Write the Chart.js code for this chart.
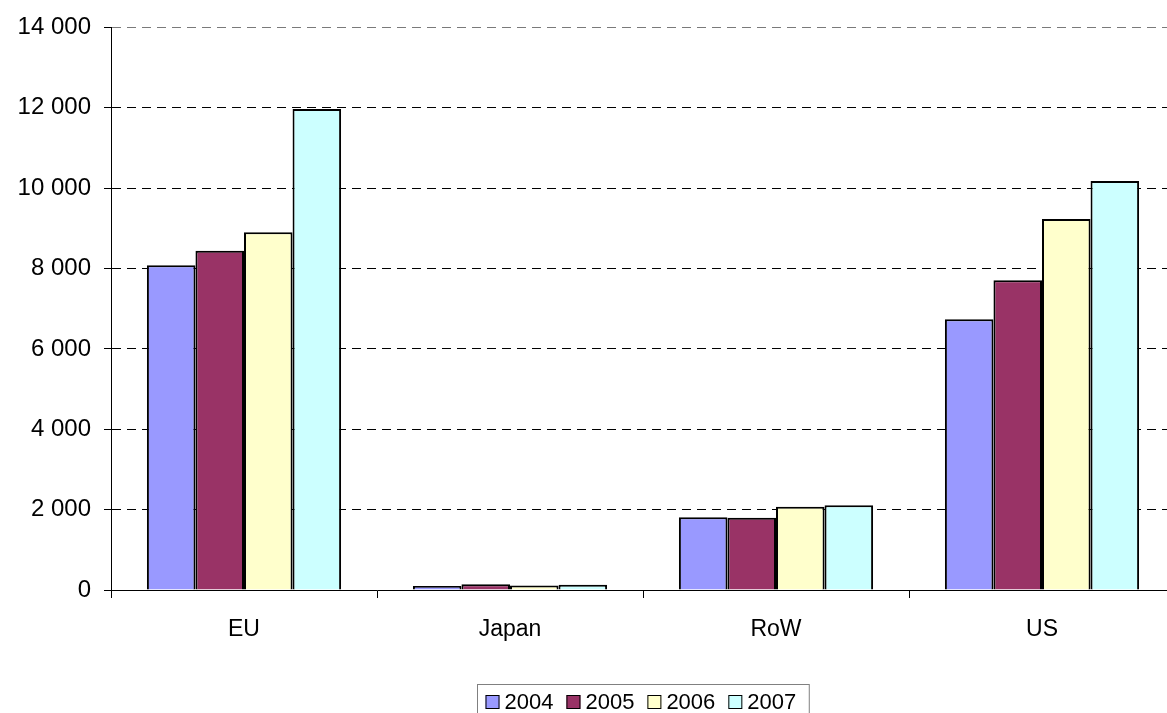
<!DOCTYPE html>
<html>
<head>
<meta charset="utf-8">
<script src="https://cdn.jsdelivr.net/npm/chart.js@4.4.1/dist/chart.umd.min.js"></script>
<style>
  html, body { margin: 0; padding: 0; background: #fff; overflow: hidden; }
  #wrap { position: relative; width: 1180px; height: 713px; }
</style>
</head>
<body>
<div id="wrap"><canvas id="c"></canvas></div>
<script>
const categories = ["EU", "Japan", "RoW", "US"];
const seriesNames = ["2004", "2005", "2006", "2007"];
const s2004 = [8080, 100, 1810, 6740];
const s2005 = [8440, 140, 1800, 7710];
const s2006 = [8900, 110, 2070, 9230];
const s2007 = [11970, 130, 2110, 10180];
const seriesColors = ["#9999FF", "#993366", "#FFFFCC", "#CCFFFF"];
const yMax = 14000;
const yStep = 2000;

const FONT = "'Liberation Sans', Arial, sans-serif";

const legendPlugin = {
  id: 'boxLegend',
  afterDraw(chart) {
    const ctx = chart.ctx;
    const area = chart.chartArea;
    const ds = chart.data.datasets;
    ctx.save();
    ctx.font = "22px " + FONT;
    const box = 14, gapText = 5, gapItem = 13, padL = 8;
    const widths = ds.map(d => ctx.measureText(d.label).width);
    let total = 0;
    widths.forEach((w, i) => { total += box + gapText + w + (i < widths.length - 1 ? gapItem : 0); });
    const frameW = total + padL + gapItem;
    const cx = (area.left + area.right) / 2;
    const fx = Math.round(cx - frameW / 2) + 0.5;
    const fy = 684.5;
    ctx.strokeStyle = "#808080";
    ctx.lineWidth = 1;
    ctx.strokeRect(fx, fy, frameW, 40);
    let x = fx + padL;
    const cy = 702;
    ds.forEach((d, i) => {
      ctx.fillStyle = d.backgroundColor;
      ctx.fillRect(x, cy - 7, box, box);
      ctx.strokeStyle = "#000";
      ctx.lineWidth = 1;
      ctx.strokeRect(x + 0.5, cy - 7 + 0.5, box - 1, box - 1);
      ctx.fillStyle = "#000";
      ctx.textBaseline = "middle";
      ctx.textAlign = "left";
      ctx.fillText(d.label, x + box + gapText, cy + 1);
      x += box + gapText + widths[i] + gapItem;
    });
    ctx.restore();
  }
};

const allSeries = [s2004, s2005, s2006, s2007];

new Chart(document.getElementById('c'), {
  type: 'bar',
  data: {
    labels: categories,
    datasets: allSeries.map((s, i) => ({
      label: seriesNames[i],
      data: s,
      backgroundColor: seriesColors[i],
      borderColor: "#000",
      borderWidth: 2,
      categoryPercentage: 0.73,
      barPercentage: 1.0
    }))
  },
  options: {
    responsive: true,
    maintainAspectRatio: false,
    animation: false,
    layout: { padding: { top: 25, right: 5, bottom: 0, left: 0 } },
    plugins: {
      legend: { display: false },
      tooltip: { enabled: false }
    },
    scales: {
      x: {
        offset: true,
        grid: {
          display: true,
          offset: true,
          drawOnChartArea: false,
          drawTicks: true,
          tickLength: 8,
          color: "#000",
          tickColor: "#000"
        },
        border: { display: true, color: "#000", width: 1 },
        ticks: {
          color: "#000",
          font: { family: FONT, size: 23 },
          padding: 18,
          maxRotation: 0
        },
        afterFit(scale) { scale.height = 123; }
      },
      y: {
        min: 0,
        max: yMax,
        ticks: {
          stepSize: yStep,
          color: "#000",
          font: { family: FONT, size: 24 },
          padding: 13,
          callback: (v) => String(v).replace(/\B(?=(\d{3})+(?!\d))/g, " ")
        },
        grid: {
          color: (c) => c.tick && c.tick.value === yMax ? "#7a7a7a" : "#000",
          lineWidth: 1,
          tickLength: 7,
          tickColor: "#000",
          tickBorderDash: []
        },
        border: { display: true, color: "#000", width: 1, dash: [9, 6] },
        afterFit(scale) { scale.width = 111; }
      }
    }
  },
  plugins: [legendPlugin]
});
</script>
</body>
</html>
